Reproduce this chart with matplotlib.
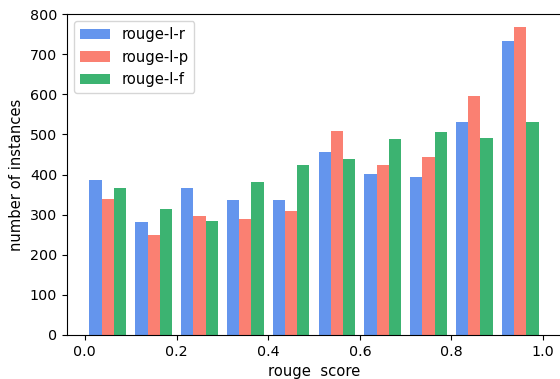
import numpy as np
import matplotlib
matplotlib.use("Agg")
import matplotlib.pyplot as plt

# histogram counts per bin (10 bins over [0, 1])
bin_edges = np.linspace(0.0, 1.0, 11)
rouge_l_r = [386, 281, 366, 336, 336, 456, 401, 393, 531, 733]
rouge_l_p = [338, 248, 296, 288, 308, 508, 423, 443, 596, 768]
rouge_l_f = [366, 313, 283, 381, 423, 438, 488, 506, 491, 531]
labels = ["rouge-l-r", "rouge-l-p", "rouge-l-f"]
colors = ["cornflowerblue", "salmon", "mediumseagreen"]

centers = (bin_edges[:-1] + bin_edges[1:]) / 2

fig = plt.figure(figsize=(5.6, 3.79), dpi=100)
ax = fig.add_axes([67 / 560, 44 / 379, 494 / 560, 321 / 379])

ax.hist([centers, centers, centers], bins=bin_edges,
        weights=[rouge_l_r, rouge_l_p, rouge_l_f],
        color=colors, label=labels)

ax.set_ylim(0, 800)
ax.tick_params(labelsize=10.3)
ax.set_xlabel("rouge  score", fontsize=10.6, labelpad=3.5)
ax.set_ylabel("number of instances", fontsize=10.6)
ax.legend(loc="upper left", fontsize=10.6)

fig.savefig("out.png", dpi=100)
